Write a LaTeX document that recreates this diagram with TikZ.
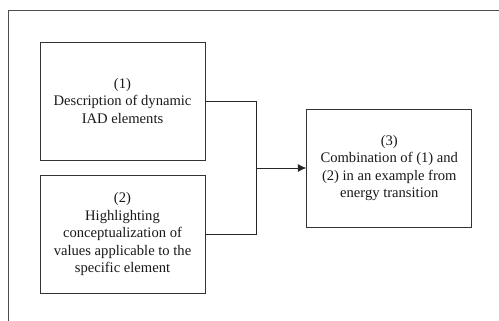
\documentclass[tikz,border=0pt]{standalone}
\usepackage{fontspec}
\setmainfont{Liberation Serif}
\usetikzlibrary{arrows.meta}
\begin{document}
\begin{tikzpicture}[x=1pt,y=-1pt,
  box/.style={draw=black!80,line width=0.9pt,minimum width=165pt,minimum height=118pt,
    align=center,inner sep=0pt,font=\fontsize{14.6}{17.5}\selectfont,text=black!90},
  conn/.style={draw=black!85,line width=0.9pt}]
\useasboundingbox (0,0) rectangle (499,321);
\fill[white] (0,0) rectangle (499,321);
\draw[black!70,line width=1.2pt] (499,10.5) -- (8.5,10.5) -- (8.5,321);
\node[box] (b1) at (122.5,101) {(1)\\Description of dynamic\\IAD elements};
\node[box] (b2) at (122.5,234.3) {(2)\\Highlighting\\conceptualization of\\values applicable to the\\specific element};
\node[box] (b3) at (389.3,168) {(3)\\Combination of (1) and\\(2) in an example from\\energy transition};
\coordinate (j1) at (256,101);
\coordinate (j2) at (256,234.3);
\coordinate (jm) at (256,168);
\draw[conn] (b1.east) -- (j1) -- (j2) -- (b2.east);
\draw[conn,-{Latex[length=8.5pt,width=8pt]}] (jm) -- (b3.west);
\end{tikzpicture}
\end{document}
